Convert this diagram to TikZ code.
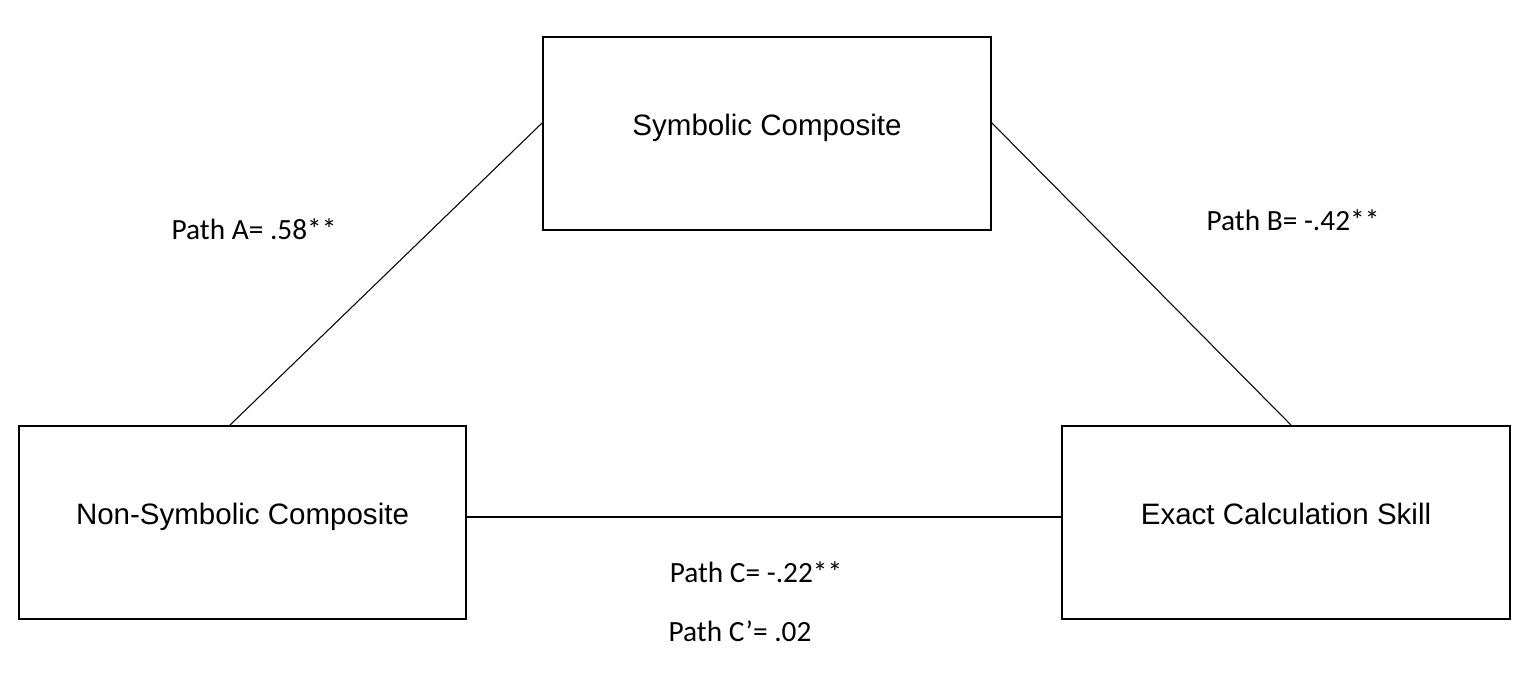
\documentclass[tikz,border=0pt]{standalone}
\usepackage{fontspec}
\setmainfont{Liberation Sans}
\newfontfamily\labelfont{Carlito}
\usepackage{tikz}

\tikzset{
  varbox/.style={draw, line width=1.1pt, minimum width=8.96cm, minimum height=3.86cm,
    inner sep=0pt, text height=12pt, text depth=9.7pt, font=\fontsize{16.8}{20}\selectfont},
  pathlabel/.style={font=\labelfont\fontsize{16.7}{20}\selectfont, inner sep=0pt},
  pathline/.style={line width=0.6pt}
}

\begin{document}
\begin{tikzpicture}[x=0.02cm, y=-0.02cm]
\useasboundingbox (0, 0) rectangle (1535, 675);

% Draw boxes.
\node[varbox] (sym) at (767, 133.5) {Symbolic Composite};
\node[varbox] (nonsym) at (242.5, 522.5) {Non-Symbolic Composite};
\node[varbox] (exact) at (1286, 522.5) {Exact Calculation Skill};

% Draw paths.
\draw[pathline] ([yshift=0.21cm]sym.west) -- ([xshift=-0.25cm]nonsym.north);
\draw[pathline] ([yshift=0.21cm]sym.east) -- ([xshift=0.1cm]exact.north);
\draw[pathline] ([yshift=0.11cm]nonsym.east) -- ([yshift=0.11cm]exact.west);

% Draw labels.
\node[pathlabel] (pa) at (254, 229) {Path A= .58**};
\node[pathlabel] (pb) at (1293, 220) {Path B= -.42**};
\node[pathlabel] (pc) at (756, 572) {Path C= -.22**};
\node[pathlabel] (pcp) at (740, 631) {Path C’= .02};

\end{tikzpicture}
\end{document}
